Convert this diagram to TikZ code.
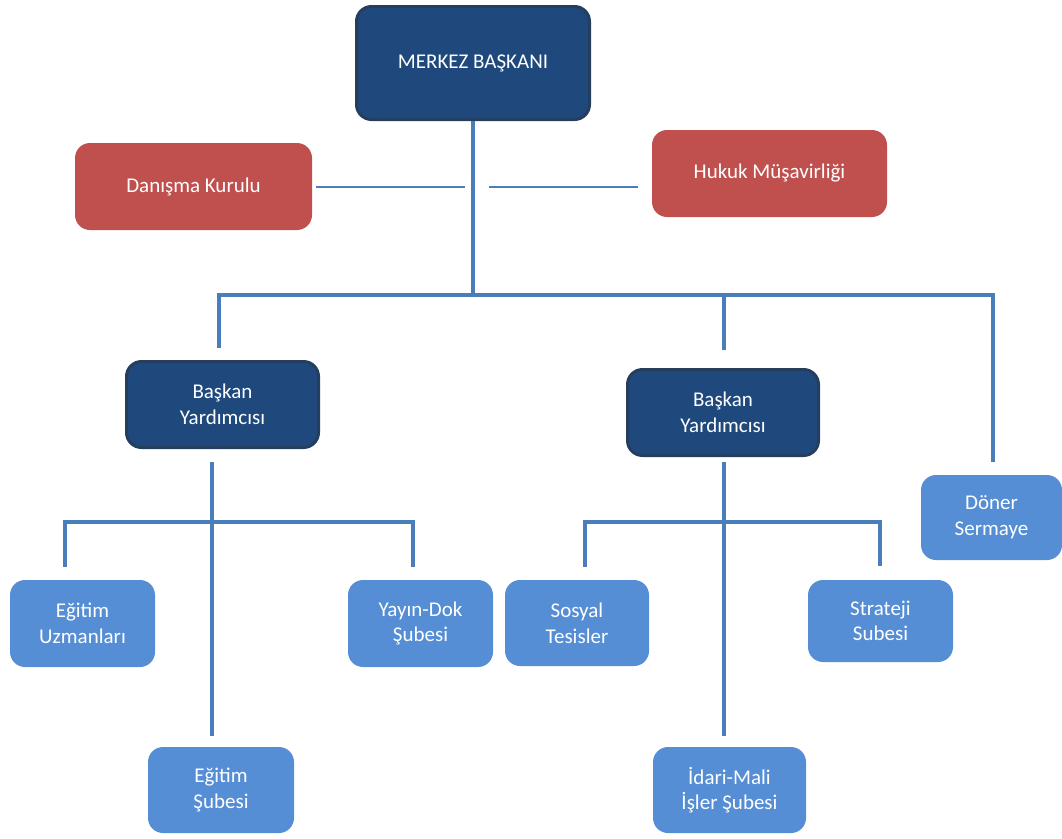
\documentclass[tikz,border=0pt]{standalone}
\usepackage{fontspec}
\setmainfont{Carlito}
\usetikzlibrary{calc}

\definecolor{navyfill}{HTML}{1F497D}
\definecolor{navyedge}{HTML}{253E5E}
\definecolor{redfill}{HTML}{C0504D}
\definecolor{skyfill}{HTML}{558ED5}
\definecolor{linkblue}{HTML}{4A7EBB}

\tikzset{
  box/.style={rectangle, rounded corners=15pt, inner sep=0pt, align=center,
    text=white, font=\fontsize{21}{25.6}\selectfont},
  chiefbox/.style={box, fill=navyfill, draw=navyedge, line width=3pt},
  advisorbox/.style={box, fill=redfill},
  unitbox/.style={box, fill=skyfill},
  thick link/.style={draw=linkblue, line width=4pt, line join=miter},
  thin link/.style={draw=linkblue, line width=2pt},
}

\begin{document}
\begin{tikzpicture}[x=1pt, y=-1pt]
\useasboundingbox (0,0) rectangle (1062,838);

% top management
\node[chiefbox, minimum width=233pt, minimum height=113pt] (mb) at (473,63) {MERKEZ BAŞKANI};

% advisory units
\node[advisorbox, minimum width=237pt, minimum height=87pt] (dk) at (193.5,186.5) {Danışma Kurulu};
\node[advisorbox, minimum width=235pt, minimum height=87pt] (hm) at (769.5,173.5) {Hukuk Müşavirliği};

% deputies
\node[chiefbox, minimum width=192pt, minimum height=86pt] (by1) at (222.5,404.5) {Başkan\\Yardımcısı};
\node[chiefbox, minimum width=191pt, minimum height=86pt] (by2) at (723,412.5) {Başkan\\Yardımcısı};

% revolving fund
\node[unitbox, minimum width=141pt, minimum height=85pt] (ds) at (991.5,517.5) {Döner\\Sermaye};

% units under the first deputy
\node[unitbox, minimum width=145pt, minimum height=87pt] (eu) at (82.5,623.5) {Eğitim\\Uzmanları};
\node[unitbox, minimum width=145pt, minimum height=87pt] (yd) at (420.5,623.5) {Yayın-Dok\\Şubesi};
\node[unitbox, minimum width=146pt, minimum height=86pt] (es) at (221,790) {Eğitim\\Şubesi};

% units under the second deputy
\node[unitbox, minimum width=144pt, minimum height=86pt] (st) at (577,623) {Sosyal\\Tesisler};
\node[unitbox, minimum width=145pt, minimum height=82pt] (ss) at (880.5,621) {Strateji\\Subesi};
\node[unitbox, minimum width=153pt, minimum height=86pt] (im) at (729.5,790) {İdari-Mali\\İşler Şubesi};

% junction points
\coordinate (trunkbot) at (473,295);
\coordinate (busL) at (219,295);
\coordinate (busM) at (724,295);
\coordinate (busR) at (993,295);
\coordinate (advL) at (465,187);
\coordinate (advR) at (489,187);
\coordinate (sub1) at (212,522);
\coordinate (sub2) at (724,522);

% main trunk and the bus below it
\draw[thick link] (mb.south) -- (trunkbot);
\draw[thick link] ([yshift=12pt]busL |- by1.north) -- (busL) -- (busR)
  -- ([yshift=13pt]busR |- ds.north);
\draw[thick link] (busM) -- ([yshift=18pt]busM |- by2.north);

% links to the advisory units
\draw[thin link] ([xshift=4pt]dk.east |- advL) -- (advL);
\draw[thin link] (advR) -- ([xshift=-14pt]hm.west |- advR);

% first deputy subtree
\draw[thick link] ([yshift=-13pt]sub1 |- by1.south) -- ([yshift=11pt]sub1 |- es.north);
\draw[thick link] ([yshift=13pt]65,0 |- eu.north) -- (65,0 |- sub1)
  -- (413,0 |- sub1) -- ([yshift=13pt]413,0 |- yd.north);

% second deputy subtree
\draw[thick link] ([yshift=-5pt]sub2 |- by2.south) -- ([yshift=11pt]sub2 |- im.north);
\draw[thick link] ([yshift=13pt]585,0 |- st.north) -- (585,0 |- sub2)
  -- (880,0 |- sub2) -- ([yshift=14pt]880,0 |- ss.north);
\end{tikzpicture}
\end{document}
